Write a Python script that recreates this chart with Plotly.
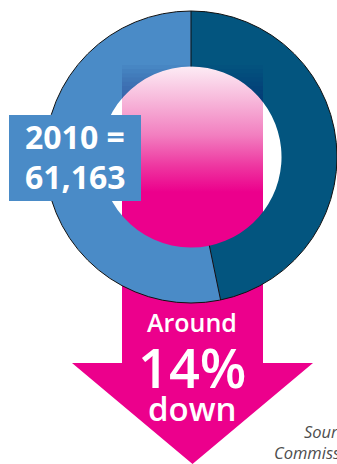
import math
import plotly.graph_objects as go

# ---- data ----
slice_labels = ["2020", "2010"]
slice_values = [53700, 61163]
slice_colors = ["#03557f", "#4a8bc7"]
box_lines = ["2010 =", "61,163"]
arrow_lines = ["Around", "14%", "down"]
source_lines = ["Source: European", "Commission"]

W, H = 337, 464
CX, CY, R = 191, 157, 146
HOLE = 0.62
RIN = R * HOLE
PINK = "#ec008c"

fig = go.Figure()

# pink gradient arrow (behind the donut)
ax0, ax1 = 122, 263
ay_top, ay_head = 65, 363
arrow_x = [ax0, ax1, ax1, 313, (ax0 + ax1) / 2, 72, ax0, ax0]
arrow_y = [ay_top, ay_top, ay_head, ay_head, 464, ay_head, ay_head, ay_top]
fig.add_trace(go.Scatter(
    x=arrow_x, y=arrow_y, mode="lines", fill="toself", line=dict(width=0),
    fillgradient=dict(type="vertical", start=65, stop=192,
                      colorscale=[[0, "#fdeef6"], [0.28, "#f7b7da"], [0.55, "#f27fc0"],
                                  [0.8, "#ee35a0"], [1, PINK]]),
    hoverinfo="skip", showlegend=False))

# donut
fig.add_trace(go.Pie(
    labels=slice_labels, values=slice_values, hole=HOLE, sort=False,
    direction="clockwise", rotation=0, textinfo="none",
    marker=dict(colors=slice_colors, line=dict(width=0)),
    domain=dict(x=[(CX - R) / W, 1], y=[(H - (CY + R)) / H, (H - (CY - R)) / H]),
    showlegend=False, hoverinfo="skip"))

shapes = []
# tint on the ring where the arrow passes behind it
def tint_path(ytop):
    pts = [(ax0, ytop), (ax1, ytop)]
    n = 40
    for i in range(n + 1):
        x = ax1 - (ax1 - ax0) * i / n
        dx = x - CX
        yh = CY - math.sqrt(max(RIN ** 2 - dx ** 2, 0))
        pts.append((x, max(ytop, yh)))
    return "M " + " L ".join(f"{x:.2f},{y:.2f}" for x, y in pts) + " Z"

for k in range(9):
    yt = ay_top + k * 4.2
    shapes.append(dict(type="path", path=tint_path(yt), xref="x", yref="y",
                       fillcolor="#1a1070", opacity=0.045, line=dict(width=0), layer="above"))

# outlines
shapes.append(dict(type="circle", xref="x", yref="y", x0=CX - R, x1=CX + R, y0=CY - R, y1=CY + R,
                   line=dict(color="#111111", width=1), fillcolor="rgba(0,0,0,0)", layer="above"))
total = sum(slice_values)
ang = 0.0
for v in slice_values:
    th = math.radians(ang)
    shapes.append(dict(type="line", xref="x", yref="y",
                       x0=CX + RIN * math.sin(th), y0=CY - RIN * math.cos(th),
                       x1=CX + R * math.sin(th), y1=CY - R * math.cos(th),
                       line=dict(color="#111111", width=1), layer="above"))
    ang += 360 * v / total

# label box
shapes.append(dict(type="rect", xref="x", yref="y", x0=9, x1=141, y0=115, y1=201,
                   fillcolor="#4a8bc7", line=dict(width=0), layer="above"))

ann = []
for txt, y in zip(box_lines, [136, 176]):
    ann.append(dict(x=75, y=y, xref="x", yref="y", text=txt, showarrow=False,
                    xanchor="center", yanchor="middle",
                    font=dict(family="Open Sans", size=32, color="white", weight=700)))
for txt, y, sz in zip(arrow_lines, [322, 367, 408], [25, 54, 33]):
    ann.append(dict(x=192, y=y, xref="x", yref="y", text=txt, showarrow=False,
                    xanchor="center", yanchor="middle",
                    font=dict(family="Open Sans", size=sz, color="white", weight=600)))
for txt, x, y in zip(source_lines, [302, 272], [431, 452]):
    ann.append(dict(x=x, y=y, xref="x", yref="y", text=f"<i>{txt}</i>", showarrow=False,
                    xanchor="left", yanchor="middle",
                    font=dict(family="Open Sans", size=16.5, color="#4d4d4d")))

fig.update_layout(
    width=W, height=H, margin=dict(l=0, r=0, t=0, b=0),
    paper_bgcolor="white", plot_bgcolor="white",
    xaxis=dict(range=[0, W], visible=False, fixedrange=True),
    yaxis=dict(range=[H, 0], visible=False, fixedrange=True),
    shapes=shapes, annotations=ann, showlegend=False)

fig.write_html("out.html", config={"displayModeBar": False})
